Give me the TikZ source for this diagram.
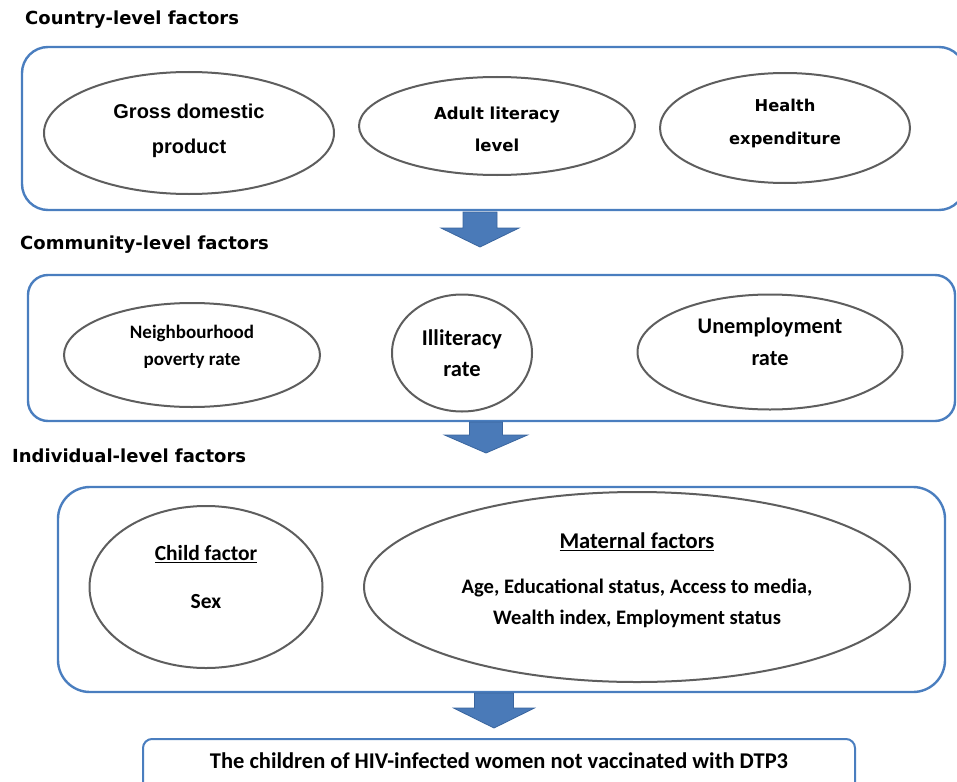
\documentclass[tikz,border=0pt]{standalone}
\usepackage{fontspec}
\setmainfont{Carlito}
\newfontfamily\headfont{DejaVu Sans}
\newfontfamily\arialfont{Liberation Sans}
\definecolor{boxblue}{HTML}{4A7EBF}
\definecolor{arrowblue}{HTML}{4A7AB8}
\definecolor{arrowedge}{HTML}{3A659E}
\definecolor{ellgray}{HTML}{5E5E5E}
\tikzset{
  every node/.style={font=\bfseries},
  heading/.style={anchor=west, inner sep=0pt, font=\headfont\bfseries\fontsize{18}{20}\selectfont},
  levelbox/.style={draw=boxblue, line width=2.4pt},
  factor/.style={draw=ellgray, line width=2pt, ellipse, inner sep=0pt, align=center},
  etext/.style={align=center, inner sep=0pt},
  blockarrow/.style={fill=arrowblue, draw=arrowedge, line width=0.8pt}
}
\usetikzlibrary{shapes.geometric}
\begin{document}
\begin{tikzpicture}[x=1pt,y=-1pt]
\useasboundingbox (0,0) rectangle (957,781);
\clip (0,0) rectangle (957,781);
% headings
\node[heading] (h1) at (25,20) {Country-level factors};
\node[heading] (h2) at (20,245) {Community-level factors};
\node[heading] (h3) at (12,456) {Individual-level factors};
% level boxes
\draw[levelbox, rounded corners=26pt] (22,47) rectangle (965,210);
\coordinate (b1s) at (480,210);
\draw[levelbox, rounded corners=20pt] (28,275) rectangle (955,421);
\coordinate (b2s) at (486,421);
\draw[levelbox, rounded corners=32pt] (58,487) rectangle (945,692);
\coordinate (b3s) at (494,692);
\draw[levelbox, line width=2pt, rounded corners=9pt] (143,739) rectangle (855,795);
\node[etext, font=\bfseries\fontsize{22.5}{26}\selectfont] (out) at (499,761) {The children of HIV-infected women not vaccinated with DTP3};
% country ellipses
\node[factor, minimum width=290pt, minimum height=122pt] (gdp) at (189,133) {};
\node[etext, font=\arialfont\bfseries\fontsize{20}{35}\selectfont] (gdpt) at ([yshift=2pt]gdp) {Gross domestic\\product};
\node[factor, minimum width=276pt, minimum height=98pt] (lit) at (497,126) {};
\node[etext, font=\headfont\bfseries\fontsize{16.5}{32}\selectfont] (litt) at ([yshift=-3pt]lit) {Adult literacy\\level};
\node[factor, minimum width=250pt, minimum height=110pt] (hexp) at (785,128) {};
\node[etext, font=\headfont\bfseries\fontsize{16.3}{33}\selectfont] (hexpt) at ([yshift=4pt]hexp) {Health\\expenditure};
% community ellipses
\node[factor, minimum width=256pt, minimum height=104pt] (pov) at (192,355) {};
\node[etext, font=\bfseries\fontsize{19}{27}\selectfont] (povt) at ([yshift=8pt]pov) {Neighbourhood\\poverty rate};
\node[factor, minimum width=140pt, minimum height=117pt] (ill) at (462,353) {};
\node[etext, font=\bfseries\fontsize{22.5}{31}\selectfont] (illt) at ([yshift=0pt]ill) {Illiteracy\\rate};
\node[factor, minimum width=265pt, minimum height=115pt] (unemp) at (770,352) {};
\node[etext, font=\bfseries\fontsize{22.3}{32}\selectfont] (unempt) at ([yshift=10pt]unemp) {Unemployment\\rate};
% individual ellipses
\node[factor, minimum width=233pt, minimum height=162pt] (child) at (206,587) {};
\node[etext, font=\bfseries\fontsize{21.5}{48}\selectfont] (childt) at ([yshift=10pt]child) {\underline{Child factor}\\Sex};
\node[factor, minimum width=546pt, minimum height=190pt] (mat) at (637,587) {};
\node[etext, font=\bfseries\fontsize{20.6}{31}\selectfont] (matt) at ([yshift=7pt]mat) {{\fontsize{22.5}{26}\selectfont\underline{Maternal factors}}\\[14pt]Age, Educational status, Access to media,\\Wealth index, Employment status};
% block arrows
\draw[blockarrow] (b1s) ++(-17,2) -- ++(34,0) -- ++(0,16) -- ++(22,0) -- ++(-39,19) -- ++(-39,-19) -- ++(22,0) -- cycle;
\draw[blockarrow] (b2s) ++(-16.5,1) -- ++(33,0) -- ++(0,13) -- ++(25,0) -- ++(-41.5,18) -- ++(-41.5,-18) -- ++(25,0) -- cycle;
\draw[blockarrow] (b3s) ++(-19.5,1) -- ++(39,0) -- ++(0,15) -- ++(21,0) -- ++(-40.5,20) -- ++(-40.5,-20) -- ++(21,0) -- cycle;
\end{tikzpicture}
\end{document}
